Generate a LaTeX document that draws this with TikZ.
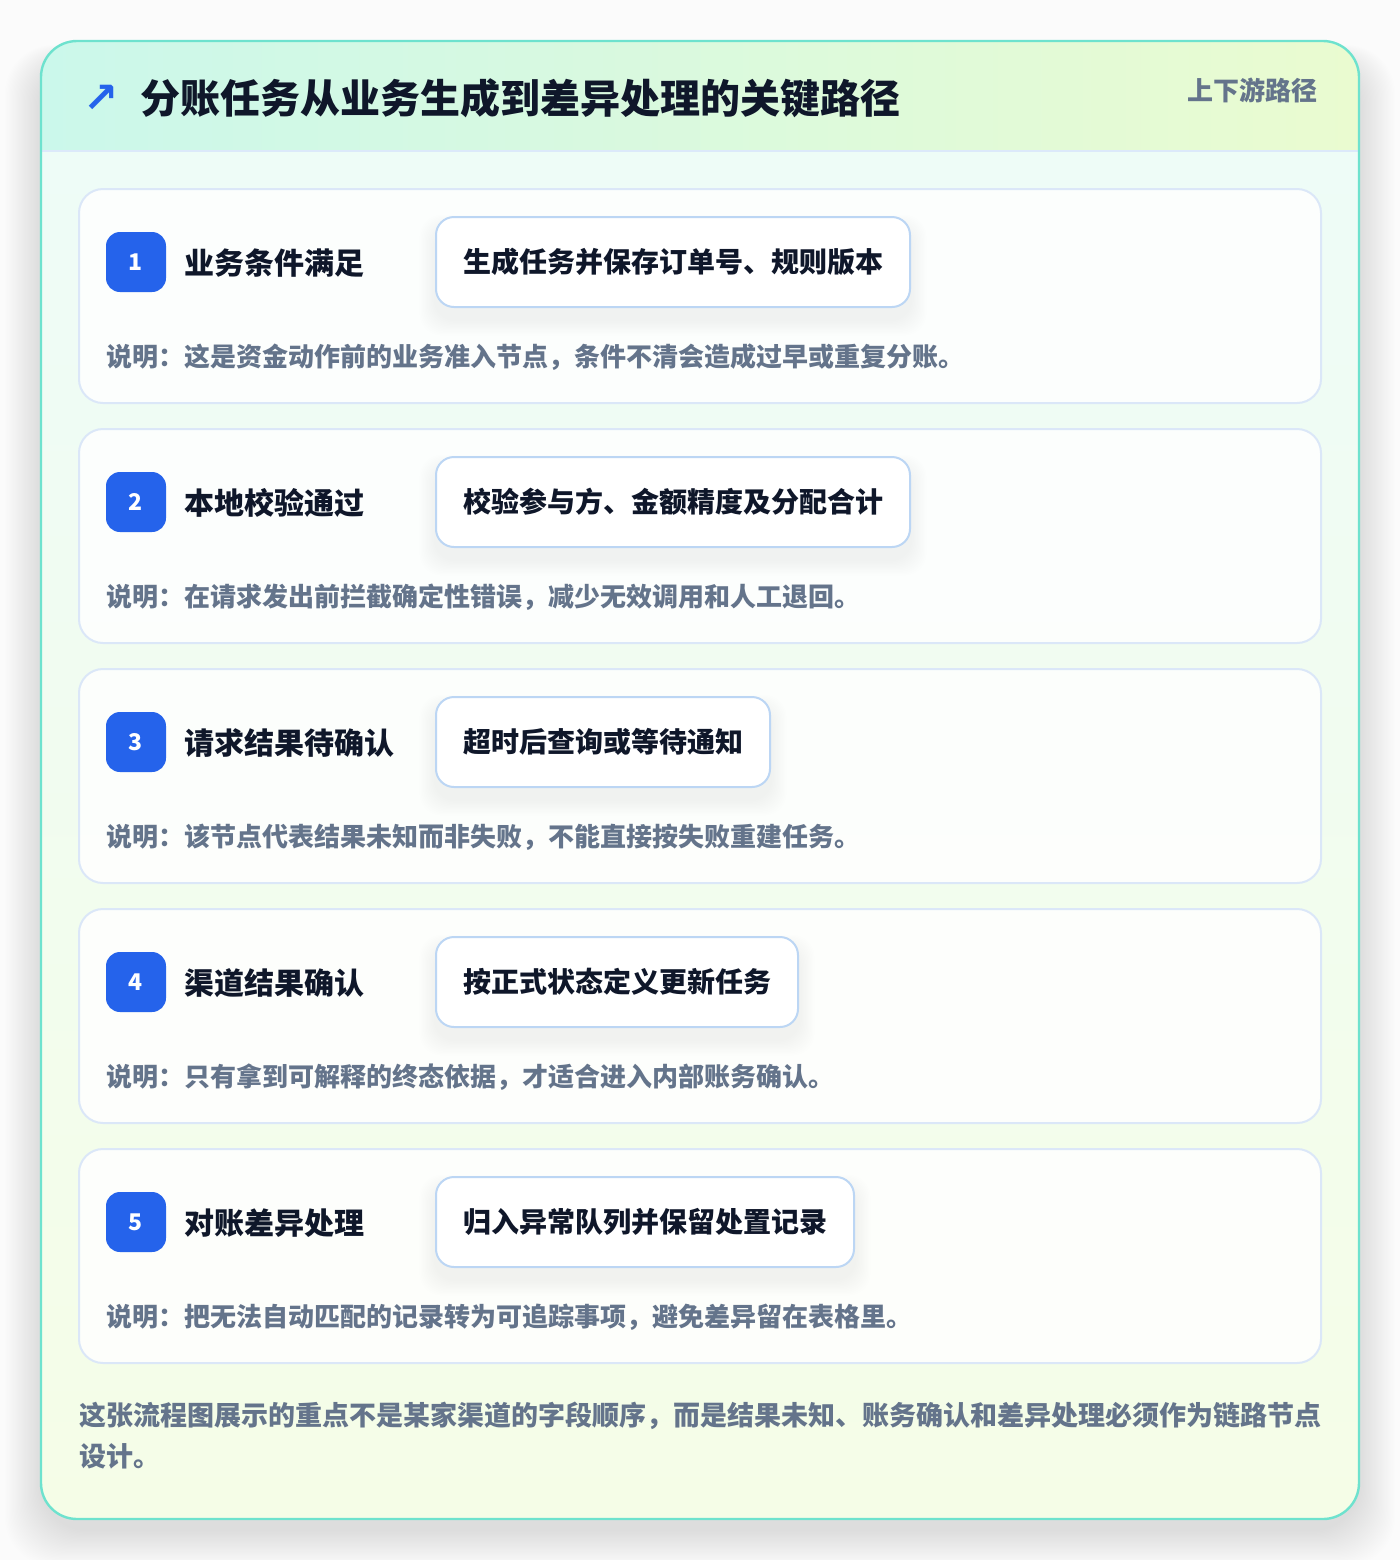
\documentclass[tikz,border=0pt]{standalone}
\usepackage{fontspec}
\setmainfont{Noto Sans CJK SC}
\newfontfamily\arrowfont{DejaVu Sans}
\usetikzlibrary{calc}
\definecolor{pagebg}{HTML}{FBFBFB}
\definecolor{outerline}{HTML}{6EE2CE}
\definecolor{headL}{HTML}{CBF8EB}
\definecolor{headR}{HTML}{EAFBD0}
\definecolor{bodyT}{HTML}{EEFCF7}
\definecolor{bodyB}{HTML}{F5FDE7}
\definecolor{headline}{HTML}{DCE9FA}
\definecolor{cardline}{HTML}{DBE7F8}
\definecolor{pillline}{HTML}{BCD6F4}
\definecolor{badgeblue}{HTML}{2563EB}
\definecolor{titlec}{HTML}{0F172A}
\definecolor{mutedc}{HTML}{64748B}
\pgfdeclarelayer{back}
\pgfdeclarelayer{shade}
\pgfsetlayers{back,shade,main}
\tikzset{
  cardbox/.style={draw=cardline, line width=1pt, fill=white, fill opacity=0.85,
    rounded corners=12pt, minimum width=621pt, minimum height=107pt, inner sep=0pt},
  badge/.style={fill=badgeblue, rounded corners=7pt, minimum width=30pt, minimum height=30pt,
    inner sep=0pt, text=white, font=\bfseries\fontsize{11.5}{11.5}\selectfont},
  steplabel/.style={inner sep=0pt, text=titlec, font=\bfseries\fontsize{15}{15}\selectfont},
  pill/.style={draw=pillline, line width=1pt, fill=white, rounded corners=9pt,
    minimum height=45pt, inner xsep=13.5pt, inner ysep=0pt, text=titlec,
    font=\bfseries\fontsize{14}{14}\selectfont},
  desc/.style={inner sep=0pt, text=mutedc, font=\bfseries\fontsize{13}{13}\selectfont},
}
\newcommand\stepcard[5]{%
  \begin{pgfonlayer}{back}
    \node[cardbox] (card#1) at (700,296+#2) {};
  \end{pgfonlayer}
  \node[badge] (badge#1) at (136,262+#2) {#1};
  \node[steplabel, anchor=west] (label#1) at (184,263+#2) {#3};
  \node[pill, anchor=west] (pill#1) at (435,262+#2) {#4};
  \node[desc, anchor=west] (desc#1) at (106,357+#2) {#5};
  \begin{pgfonlayer}{shade}
    \foreach \k in {1,...,12}{
      \fill[black, opacity=0.0045, rounded corners=11pt]
        ($(pill#1.north west)+(-\k*1.3,-\k*1.1+12)$) rectangle ($(pill#1.south east)+(\k*1.3,\k*1.3+12)$);
    }
  \end{pgfonlayer}
}
\begin{document}
\begin{tikzpicture}[x=0.5pt,y=-0.5pt]
\useasboundingbox (0,0) rectangle (1400,1560);
\begin{pgfonlayer}{back}
  \fill[pagebg] (0,0) rectangle (1400,1560);
  \foreach \i in {1,...,30}{
    \fill[black, opacity=0.0042, rounded corners=24pt]
      (41-\i*1.2,60-\i*0.5) rectangle (1359+\i*1.2,1530+\i*1.2);
  }
  \begin{scope}
    \clip[rounded corners=18pt] (41,41) rectangle (1359,1519);
    \shade[top color=bodyT, bottom color=bodyB] (41,151) rectangle (1359,1519);
    \shade[left color=headL, right color=headR] (41,41) rectangle (1359,151);
  \end{scope}
  \draw[headline, line width=1pt] (42,151) -- (1358,151);
  \draw[outerline, line width=1.2pt, rounded corners=18pt] (41,41) rectangle (1359,1519);
\end{pgfonlayer}
\node[text=badgeblue, inner sep=0pt, font=\arrowfont\bfseries\fontsize{21}{21}\selectfont] (icon) at (101,99) {↗};
\node[anchor=west, inner sep=0pt, text=titlec, font=\bfseries\fontsize{20}{20}\selectfont] (title) at (140,98) {分账任务从业务生成到差异处理的关键路径};
\node[anchor=east, inner sep=0pt, text=mutedc, font=\bfseries\fontsize{13}{13}\selectfont] (tag) at (1318,90) {上下游路径};
\stepcard{1}{0}{业务条件满足}{生成任务并保存订单号、规则版本}{说明：这是资金动作前的业务准入节点，条件不清会造成过早或重复分账。}
\stepcard{2}{240}{本地校验通过}{校验参与方、金额精度及分配合计}{说明：在请求发出前拦截确定性错误，减少无效调用和人工退回。}
\stepcard{3}{480}{请求结果待确认}{超时后查询或等待通知}{说明：该节点代表结果未知而非失败，不能直接按失败重建任务。}
\stepcard{4}{720}{渠道结果确认}{按正式状态定义更新任务}{说明：只有拿到可解释的终态依据，才适合进入内部账务确认。}
\stepcard{5}{960}{对账差异处理}{归入异常队列并保留处置记录}{说明：把无法自动匹配的记录转为可追踪事项，避免差异留在表格里。}
\node[anchor=north west, align=left, inner sep=0pt, text=mutedc, font=\bfseries\fontsize{13.5}{20.5}\selectfont] (footer) at (79,1402)
  {这张流程图展示的重点不是某家渠道的字段顺序，而是结果未知、账务确认和差异处理必须作为链路节点\\设计。};
\end{tikzpicture}
\end{document}
